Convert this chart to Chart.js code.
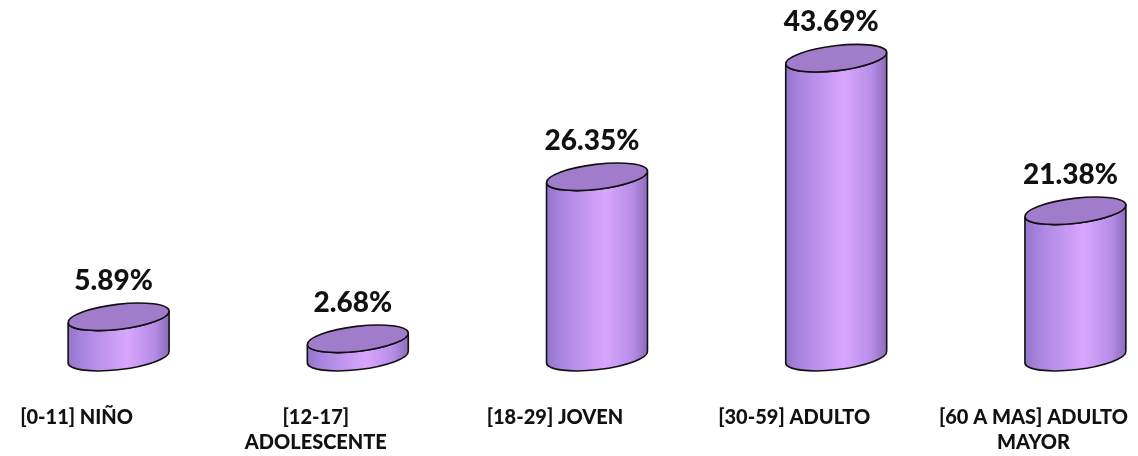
<!DOCTYPE html>
<html>
<head>
<meta charset="utf-8">
<script src="https://cdn.jsdelivr.net/npm/chart.js@4.4.1/dist/chart.umd.min.js"></script>
<style>
  html, body { margin: 0; padding: 0; background: #fff; overflow: hidden; }
  #marco { width: 1138px; height: 456px; overflow: hidden; }
  #wrap { width: 1196px; height: 456px; margin-left: -1.5px; }
</style>
</head>
<body>
<div id="marco"><div id="wrap"><canvas id="grafico"></canvas></div></div>
<script>
const categorias = ['[0-11] NIÑO', ['[12-17]', 'ADOLESCENTE'], '[18-29] JOVEN', '[30-59] ADULTO', ['[60 A MAS] ADULTO', 'MAYOR']];
const porcentajes = [5.89, 2.68, 26.35, 43.69, 21.38];

// dibuja cada barra como cilindro usando la posicion que calcula Chart.js
const cilindros = {
    id: 'cilindros',
    afterDatasetsDraw(chart) {
        const ctx = chart.ctx;
        const meta = chart.getDatasetMeta(0);
        const rot = -0.118;
        meta.data.forEach((bar, i) => {
            const cx = bar.x;
            const rx = bar.width / 2;
            const ry = 12.5;
            const top = bar.y;
            const base = bar.base;
            const c = Math.cos(rot), s = Math.sin(rot);

            const grad = ctx.createLinearGradient(cx - rx, 0, cx + rx, 0);
            grad.addColorStop(0, '#9474c9');
            grad.addColorStop(0.15, '#a985e0');
            grad.addColorStop(0.58, '#d9a6fe');
            grad.addColorStop(0.85, '#b68de6');
            grad.addColorStop(1, '#8a6bb8');

            ctx.save();
            ctx.lineWidth = 1.6;
            ctx.strokeStyle = '#111';

            // cuerpo
            ctx.beginPath();
            ctx.moveTo(cx + rx * c, top + rx * s);
            ctx.lineTo(cx + rx * c, base + rx * s);
            ctx.ellipse(cx, base, rx, ry, rot, 0, Math.PI, false);
            ctx.lineTo(cx - rx * c, top - rx * s);
            ctx.ellipse(cx, top, rx, ry, rot, Math.PI, 0, true);
            ctx.closePath();
            ctx.fillStyle = grad;
            ctx.fill();
            ctx.stroke();

            // tapa
            ctx.beginPath();
            ctx.ellipse(cx, top, rx, ry, rot, 0, Math.PI * 2);
            ctx.fillStyle = '#a07ccb';
            ctx.fill();
            ctx.stroke();

            // etiqueta
            ctx.fillStyle = '#111';
            ctx.font = '900 28px Lato';
            ctx.textAlign = 'center';
            ctx.textBaseline = 'middle';
            ctx.fillText(porcentajes[i].toFixed(2) + '%', cx - 5, top - 36);
            ctx.restore();
        });
    }
};

new Chart(document.getElementById('grafico'), {
    type: 'bar',
    data: {
        labels: categorias,
        datasets: [{
            data: porcentajes,
            backgroundColor: 'rgba(0,0,0,0)',
            borderWidth: 0,
            categoryPercentage: 0.5,
            barPercentage: 0.85
        }]
    },
    options: {
        responsive: true,
        maintainAspectRatio: false,
        animation: false,
        layout: { padding: { left: 0, right: 0, top: 15, bottom: 1 } },
        plugins: { legend: { display: false }, tooltip: { enabled: false } },
        scales: {
            x: {
                offset: true,
                grid: { display: false, drawTicks: false },
                border: { display: false },
                ticks: {
                    color: '#111',
                    font: { family: 'Lato', size: 20, weight: 900, lineHeight: 1.25 },
                    padding: 0,
                    labelOffset: -42,
                    maxRotation: 0,
                    autoSkip: false
                }
            },
            y: {
                display: false,
                min: -7,
                max: 50
            }
        }
    },
    plugins: [cilindros]
});
</script>
</body>
</html>
